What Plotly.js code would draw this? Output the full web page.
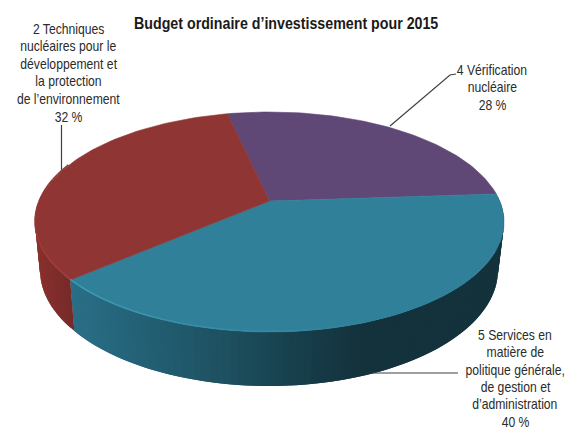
<!DOCTYPE html>
<html><head><meta charset="utf-8">
<script src="https://cdn.plot.ly/plotly-3.0.1.min.js"></script>
<style>html,body{margin:0;padding:0;background:#fff}#c{width:566px;height:428px}</style>
</head><body><div id="c"></div>
<script>
const categories = ["4 Vérification nucléaire", "5 Services en matière de politique générale, de gestion et d’administration", "2 Techniques nucléaires pour le développement et la protection de l’environnement"];
const shares = [28, 40, 32];
const labelLines = [
  ["4 Vérification", "nucléaire", "28 %"],
  ["5 Services en", "matière de", "politique générale,", "de gestion et", "d’administration", "40 %"],
  ["2 Techniques", "nucléaires pour le", "développement et", "la protection", "de l’environnement", "32 %"]
];
const chartTitle = "Budget ordinaire d’investissement pour 2015";

// styling and projection of the tilted disc
const faceColors = ["#5f4776", "#30809a", "#8f3634"];
const rimGlow = [null, "#3f9db6", "#a63f3d"];
const wallStops = [
  null,
  [[72,"#2a6f87"],[150,"#235f74"],[230,"#1d4f5f"],[290,"#17404d"],[360,"#14323c"],[510,"#14323c"]],
  [[35,"#8c312f"],[75,"#752a29"]]
];
const labelPos = [[492, 69.5, 17.5], [515, 335, 17.3], [68, 28.5, 17.6]];
const leaders = [
  [[390,126],[450,75],[456,74]],
  [[371,373],[458,373]],
  [[61.5,125],[61.5,170]]
];
const startDeg = -14.5, k = 0.191;
const topPlane = {cx:269.5, cy:201, rx:230.2, ry:106};
const basePlane = {cx:269, cy:247.8, rx:224.8, ry:111.8};

function project(deg, p){
  const r = deg*Math.PI/180, t = r + (2*Math.cos(r) - 0.33*Math.sin(r))*Math.PI/180;
  const u = Math.sin(t), v = -Math.cos(t), s = 1/(1-k*v);
  return [p.cx + p.rx*u*s, p.cy + p.ry*v*s];
}
function hex(c){return [1,3,5].map(i=>parseInt(c.substr(i,2),16));}
function mix(a,b,f){const A=hex(a),B=hex(b);return "rgb("+A.map((x,i)=>Math.round(x+(B[i]-x)*f)).join(",")+")";}
function ramp(stops,x){
  if(x<=stops[0][0]) return stops[0][1];
  for(let i=1;i<stops.length;i++) if(x<=stops[i][0]) return mix(stops[i-1][1],stops[i][1],(x-stops[i-1][0])/(stops[i][0]-stops[i-1][0]));
  return stops[stops.length-1][1];
}
const total = shares.reduce((a,b)=>a+b,0);
let bounds=[startDeg];
shares.forEach(s=>bounds.push(bounds[bounds.length-1]+s/total*360));

const traces=[];
const poly=(xs,ys,color,w)=>traces.push({type:"scatter",mode:"lines",x:xs,y:ys,fill:"toself",fillcolor:color,line:{color:color,width:w},hoverinfo:"skip",showlegend:false});
// side wall: overlapping strips between the upper rim and the lower rim
const visibleFrom=86, visibleTo=276, stepDeg=1.5;
shares.forEach((_,i)=>{
  if(!wallStops[i]) return;
  const a0=Math.max(bounds[i],visibleFrom), a1=Math.min(bounds[i+1],visibleTo);
  for(let a=a0;a<a1-1e-6;a+=stepDeg){
    const hi=Math.min(a+2*stepDeg,a1);
    const p1=project(a,topPlane),p2=project(hi,topPlane),p3=project(hi,basePlane),p4=project(a,basePlane);
    poly([p1[0],p2[0],p3[0],p4[0],p1[0]],[p1[1],p2[1],p3[1],p4[1],p1[1]],ramp(wallStops[i],project(a+stepDeg/2,basePlane)[0]),0);
  }
});
// top faces
shares.forEach((_,i)=>{
  const xs=[topPlane.cx],ys=[topPlane.cy];
  const n=Math.ceil((bounds[i+1]-bounds[i])/1.5);
  for(let j=0;j<=n;j++){const p=project(bounds[i]+(bounds[i+1]-bounds[i])*j/n,topPlane);xs.push(p[0]);ys.push(p[1]);}
  xs.push(topPlane.cx);ys.push(topPlane.cy);
  poly(xs,ys,faceColors[i],0.6);
});
// soft highlight along the front rim
shares.forEach((_,i)=>{
  if(!rimGlow[i]) return;
  const a0=Math.max(bounds[i],130), a1=Math.min(bounds[i+1],290), n=Math.ceil((a1-a0)/3);
  for(let j=0;j<n;j++){
    const a=a0+(a1-a0)*j/n,b=a0+(a1-a0)*(j+1)/n;
    const mid=(a+b)/2, f=i===1?Math.max(0,Math.min(1,(bounds[2]-mid)/70)):Math.max(0,Math.min(1,(mid-bounds[2])/45));
    const p=project(a,topPlane),q=project(b,topPlane);
    traces.push({type:"scatter",mode:"lines",x:[p[0],q[0]],y:[p[1]-0.7,q[1]-0.7],line:{color:mix(rimGlow[i],faceColors[i],f),width:1.4},hoverinfo:"skip",showlegend:false});
  }
});
// leader lines
leaders.forEach(l=>traces.push({type:"scatter",mode:"lines",x:l.map(p=>p[0]),y:l.map(p=>p[1]),line:{color:"#404040",width:1.2},hoverinfo:"skip",showlegend:false}));

const annotations = [];
labelLines.forEach((lines,i)=>lines.forEach((line,j)=>annotations.push({
  xref:"x",yref:"y",x:labelPos[i][0],y:labelPos[i][1]+j*labelPos[i][2],text:line,showarrow:false,align:"center",xanchor:"center",yanchor:"middle",
  font:{family:"'Liberation Sans',Arial,sans-serif",size:14.5,color:"#2b2b2b"}
})));
annotations.push({xref:"x",yref:"y",x:285.5,y:23,text:"<b>"+chartTitle+"</b>",showarrow:false,xanchor:"center",yanchor:"middle",
  font:{family:"'Liberation Sans',Arial,sans-serif",size:16,color:"#1a1a1a"}});

Plotly.newPlot("c",traces,{
  width:566,height:428,margin:{l:0,r:0,t:0,b:0},paper_bgcolor:"#fff",plot_bgcolor:"#fff",showlegend:false,
  xaxis:{range:[0,566],visible:false,fixedrange:true},
  yaxis:{range:[428,0],visible:false,fixedrange:true},
  annotations:annotations
},{displayModeBar:false,staticPlot:true}).then(()=>{
  // the reference sets its labels in a condensed cut: narrow the real text horizontally
  document.querySelectorAll(".annotation-text-g text").forEach((t,i,all)=>{
    t.style.transformBox="fill-box";
    t.style.transformOrigin="center";
    t.style.transform="scaleX("+(i===all.length-1?0.89:0.84)+")";
  });
});
</script></body></html>
